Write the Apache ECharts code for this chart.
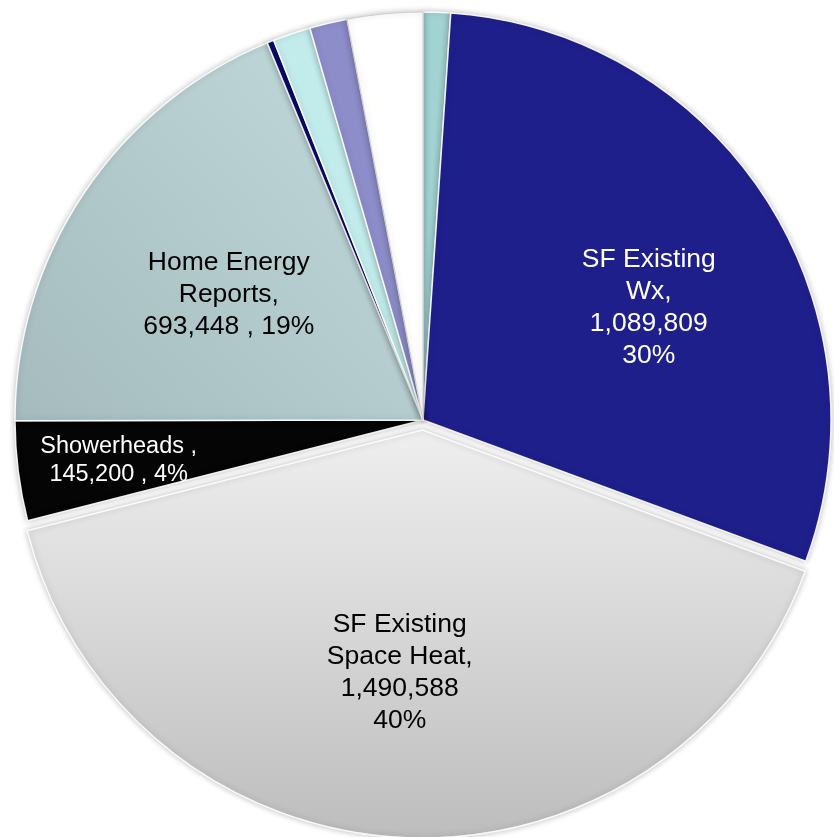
<!DOCTYPE html>
<html>
<head>
<meta charset="utf-8">
<script src="https://cdn.jsdelivr.net/npm/echarts@6/dist/echarts.min.js"></script>
<style>
html,body{margin:0;padding:0;background:#fff;}
#c{width:834px;height:837px;}
</style>
</head>
<body>
<div id="c"></div>
<script>
// Categories in clockwise order from 12 o'clock
const categories = ['Other 1', 'SF Existing Wx', 'SF Existing Space Heat', 'Showerheads', 'Home Energy Reports', 'Other 2', 'Other 3', 'Other 4', 'Other 5'];
const values = [40000, 1089809, 1490588, 145200, 693448, 10000, 55000, 55000, 110000];
const nameLines = [null, ['SF Existing', 'Wx'], ['SF Existing', 'Space Heat'], ['Showerheads '], ['Home Energy', 'Reports'], null, null, null, null];
const labelStyleKind = [null, 'stack', 'stack', 'inline', 'inline', null, null, null, null];

const colors = [
  '#a2d3d3',
  '#1f1f8c',
  {type:'linear', x:0, y:0, x2:0, y2:1, colorStops:[{offset:0,color:'#efefef'},{offset:1,color:'#bdbdbd'}]},
  '#050505',
  {type:'linear', x:1, y:0, x2:0, y2:1, colorStops:[{offset:0,color:'#c2dbdc'},{offset:1,color:'#a5bbbd'}]},
  '#0b0b6e',
  '#c2ecec',
  '#8d8dca',
  '#ffffff'
];
const labelColors = [null, '#ffffff', '#000000', '#ffffff', '#000000', null, null, null, null];
const labelSizes = [0, 26.5, 26.5, 23.5, 26.5, 0, 0, 0, 0];
const labelLineHeights = [0, 32, 32, 28, 32, 0, 0, 0, 0];
const labelOffsets = [[0,0],[52,0],[-12,36],[-99,15],[-22,-10],[0,0],[0,0],[0,0],[0,0]];

function fmt(n){ return n.toLocaleString('en-US'); }

const data = categories.map((c, i) => ({
  name: c,
  value: values[i],
  selected: i === 2,
  itemStyle: {
    color: colors[i],
    borderColor: i === 8 ? '#cfcfcf' : 'rgba(255,255,255,0.9)',
    borderWidth: i === 8 ? 1 : 1.5
  },
  label: {
    show: !!nameLines[i],
    color: labelColors[i] || '#000',
    fontSize: labelSizes[i],
    lineHeight: labelLineHeights[i]
  }
}));

const chart = echarts.init(document.getElementById('c'), null, {renderer: 'canvas'});
chart.setOption({
  animation: false,
  series: [{
    type: 'pie',
    center: [423, 420],
    radius: [0, 408],
    startAngle: 90,
    clockwise: true,
    selectedMode: 'multiple',
    selectedOffset: 10,
    percentPrecision: 0,
    avoidLabelOverlap: false,
    emphasis: {disabled: true},
    select: {itemStyle: {}},
    itemStyle: {shadowBlur: 6, shadowColor: 'rgba(0,0,0,0.25)'},
    label: {
      position: 'inside',
      fontFamily: 'Liberation Sans, Arial, sans-serif',
      align: 'center',
      formatter: function (p) {
        const i = p.dataIndex;
        const lines = nameLines[i];
        if (!lines) return '';
        const v = fmt(values[i]);
        if (labelStyleKind[i] === 'stack') {
          return lines.slice(0, -1).concat([lines[lines.length - 1] + ',', v, p.percent + '%']).join('\n');
        }
        return lines.slice(0, -1).concat([lines[lines.length - 1] + ',', v + ' , ' + p.percent + '%']).join('\n');
      }
    },
    labelLine: {show: false},
    labelLayout: function (params) {
      const o = labelOffsets[params.dataIndex];
      return {dx: o[0], dy: o[1]};
    },
    data: data
  }]
});
</script>
</body>
</html>
